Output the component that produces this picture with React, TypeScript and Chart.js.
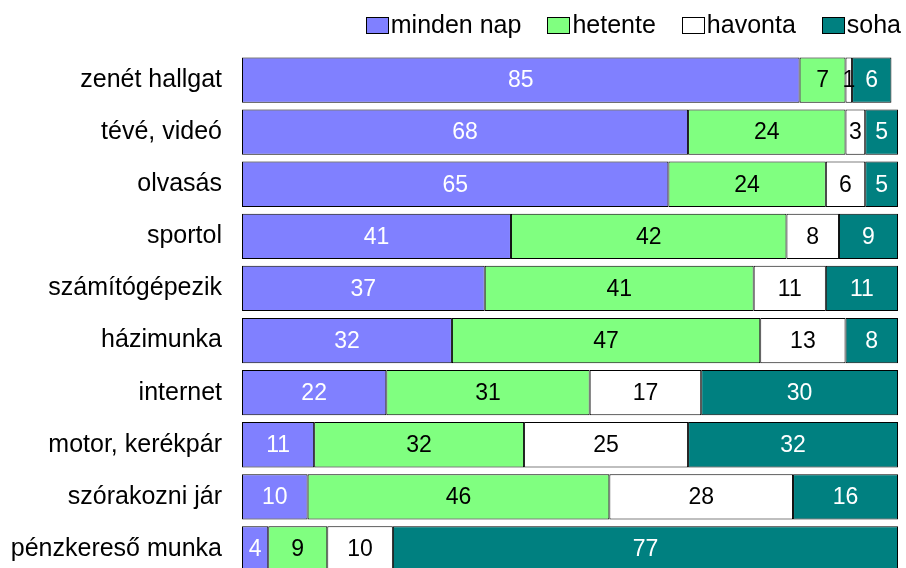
import React, { useEffect, useRef } from "react";
import { Chart, registerables } from "chart.js";

Chart.register(...registerables);

const categories = [
  "zenét hallgat",
  "tévé, videó",
  "olvasás",
  "sportol",
  "számítógépezik",
  "házimunka",
  "internet",
  "motor, kerékpár",
  "szórakozni jár",
  "pénzkereső munka",
];
const seriesNames = ["minden nap", "hetente", "havonta", "soha"];
const mindenNap = [85, 68, 65, 41, 37, 32, 22, 11, 10, 4];
const hetente = [7, 24, 24, 42, 41, 47, 31, 32, 46, 9];
const havonta = [1, 3, 6, 8, 11, 13, 17, 25, 28, 10];
const soha = [6, 5, 5, 9, 11, 8, 30, 32, 16, 77];

const fillColors = ["#8080FF", "#80FF80", "#FFFFFF", "#008080"];
const labelColors = ["#FFFFFF", "#000000", "#000000", "#FFFFFF"];
const FONT = "'Liberation Sans', Arial, sans-serif";

const valueLabels = {
  id: "valueLabels",
  afterDatasetsDraw(chart: any) {
    const ctx = chart.ctx;
    ctx.save();
    ctx.font = `23px ${FONT}`;
    ctx.textAlign = "center";
    ctx.textBaseline = "middle";
    chart.data.datasets.forEach((ds: any, di: number) => {
      const meta = chart.getDatasetMeta(di);
      meta.data.forEach((el: any, i: number) => {
        const v = ds.data[i];
        const cx = (el.x + el.base) / 2;
        ctx.fillStyle = labelColors[di];
        ctx.fillText(String(v), cx, el.y + 1);
      });
    });
    ctx.restore();
  },
};

const customLegend = {
  id: "customLegend",
  afterDraw(chart: any) {
    const ctx = chart.ctx;
    ctx.save();
    ctx.font = `25px ${FONT}`;
    ctx.textBaseline = "middle";
    ctx.textAlign = "left";
    const boxW = 22;
    const boxH = 16;
    const boxGap = 3;
    const itemGap = 26;
    const y = 25;
    const widths = seriesNames.map((n) => ctx.measureText(n).width);
    let total = 0;
    widths.forEach((w, i) => {
      total += boxW + boxGap + w + (i < widths.length - 1 ? itemGap : 0);
    });
    let x = 901 - total;
    seriesNames.forEach((n, i) => {
      const bx = Math.round(x) + 0.5;
      ctx.fillStyle = fillColors[i];
      ctx.fillRect(bx, y - boxH / 2 + 0.5, boxW, boxH);
      ctx.strokeStyle = "#000";
      ctx.lineWidth = 1;
      ctx.strokeRect(bx, y - boxH / 2 + 0.5, boxW, boxH);
      ctx.fillStyle = "#000";
      ctx.fillText(n, x + boxW + boxGap, y + 1);
      x += boxW + boxGap + widths[i] + itemGap;
    });
    ctx.restore();
  },
};

export default function App() {
  const ref = useRef<HTMLCanvasElement | null>(null);
  useEffect(() => {
    if (!ref.current) return;
    const series = [mindenNap, hetente, havonta, soha];
    const chart = new Chart(ref.current, {
      type: "bar",
      data: {
        labels: categories,
        datasets: series.map((d, i) => ({
          label: seriesNames[i],
          data: d,
          backgroundColor: fillColors[i],
          borderColor: "#000000",
          borderWidth: 1,
          borderSkipped: false,
          categoryPercentage: 1,
          barPercentage: 0.87,
        })),
      },
      options: {
        indexAxis: "y",
        animation: false,
        responsive: true,
        maintainAspectRatio: false,
        devicePixelRatio: 1,
        layout: { padding: { top: 54, bottom: 5, right: 8, left: 0 } },
        plugins: {
          legend: { display: false },
          tooltip: { enabled: false },
        },
        scales: {
          x: {
            display: false,
            stacked: true,
            min: 0,
            max: 100,
          },
          y: {
            stacked: true,
            grid: { display: false },
            border: { display: false },
            ticks: {
              color: "#000",
              font: { family: FONT, size: 25 },
              padding: 12,
            },
            afterFit(scale: any) {
              scale.width = 242;
            },
          },
        },
      },
      plugins: [valueLabels, customLegend],
    });
    return () => chart.destroy();
  }, []);
  return (
    <div style={{ position: "absolute", left: 0, top: 0, width: 906, height: 602, background: "#fff" }}>
      <canvas ref={ref} />
    </div>
  );
}
